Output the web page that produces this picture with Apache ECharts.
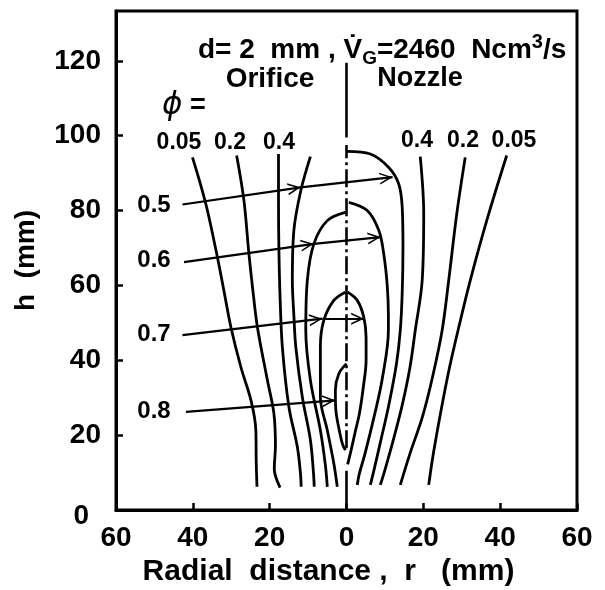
<!DOCTYPE html>
<html><head><meta charset="utf-8">
<script src="https://cdn.jsdelivr.net/npm/echarts@6/dist/echarts.min.js"></script>
<style>html,body{margin:0;padding:0;background:#fff}#c{width:605px;height:590px}</style>
</head><body><div id="c"></div>
<script>
// ---------- axes ----------
const xTicks = [-60, -40, -20, 0, 20, 40, 60];
const yTicks = [0, 20, 40, 60, 80, 100, 120];

// ---------- contour lines (r in mm, negative = orifice side; h in mm) ----------
const orifice005 = [[-40.1,94.2],[-38,87],[-36.2,80],[-33.6,67.5],[-31.8,58],[-30.1,48.9],[-27.5,38.2],[-24.8,29],[-23.6,21.3],[-23.5,13],[-23.3,6.2]];
const orifice02  = [[-28.6,94.7],[-26.7,82.7],[-25.4,68.4],[-24.3,58],[-23.2,48.9],[-20.6,34.7],[-18.9,25.8],[-18.5,17],[-18.8,11],[-17.3,6]];
const orifice04  = [[-17.7,95.1],[-17.7,82],[-17.6,70],[-17.3,57],[-16.7,43.6],[-15,27.6],[-12.8,16.9],[-12,10],[-11.8,6.2]];
const orifice05  = [[-9.4,94.4],[-11.9,85.3],[-13.7,74.7],[-14.1,61.3],[-13.7,52],[-13.2,43.6],[-11.5,30.2],[-9.4,18.7],[-8.6,10],[-8.4,6.2]];
const orifice06  = [[-0.3,79.5],[-5,77.3],[-8.5,71.1],[-10.2,61.3],[-10.6,48],[-9.4,34.7],[-6.8,21.3],[-5.5,12],[-5,6.2]];
const orifice07  = [[-0.3,58.2],[-3.3,56],[-5.9,50.7],[-6.8,43.6],[-6.8,30.2],[-5,21.3],[-3.3,12.4],[-2.4,6.2]];
const orifice08  = [[0,39.1],[-2,36.4],[-2.9,32],[-2.8,27],[-2.4,24],[-1.1,17.8],[-0.3,16]];

const nozzle05  = [[0.2,95.8],[6.2,95.1],[11,91.5],[13.6,87.1],[14.5,80.9],[14.7,70.2],[14.5,58],[14,48],[13,39],[11,28],[8.8,18],[7,10],[6.2,6.7]];
const nozzle06  = [[0.6,82.2],[5.4,80],[8.4,74.7],[9.7,68.4],[10.6,60],[10.9,52],[10.9,48],[9.3,35],[7.2,25],[4.8,15],[3.3,9.5],[2.8,6.7]];
const nozzle07  = [[0.3,58.2],[2.8,56],[4.5,51.5],[5.1,46],[5.1,40],[4.4,33],[3.4,26],[2.3,21],[1.2,16],[0.3,12.2]];
const nozzle04  = [[19.2,94.4],[20.1,79.1],[19.7,61.3],[17.9,48],[16.5,38],[14.5,28],[12,18],[9.8,10],[8.8,6.7]];
const nozzle02  = [[30.9,94.2],[28.7,79.1],[26.6,61.3],[24.9,48],[22.5,36],[19.8,25],[16.5,15],[14,6.7]];
const nozzle005 = [[41.7,94.7],[36.5,77.3],[32.2,61.3],[29.5,50],[26.8,38],[24.5,26],[22.6,15],[21.4,6.7]];

// centre line r = 0
const axisTop   = [[0,99.5],[0,119.5]];
const axisMid   = [[0,16.5],[0,97.5]];
const axisFoot  = [[0,0],[0,10.5]];

// arrows from level labels to the contours: [from, to]
const arrowLevels = ['0.5','0.6','0.7','0.8'];
const arrows = [
  [[-42.7,81.6],[-11.9,86.2]], [[-11.9,86.2],[12.0,88.9]],
  [[-42.3,66.2],[-8.5,71.1]],  [[-8.5,71.1],[8.9,72.9]],
  [[-42.7,46.7],[-6.3,51.1]],  [[-6.3,51.1],[4.6,51.1]],
  [[-41.8,26.2],[-2.9,29.3]]
];

const FONT = '"Liberation Sans", Arial, sans-serif';
const contours = [orifice005, orifice02, orifice04, orifice05, orifice06, orifice07, orifice08,
                  nozzle05, nozzle06, nozzle07, nozzle04, nozzle02, nozzle005];

const series = contours.map(d => ({
  type: 'line', data: d, showSymbol: false, smooth: 0.35, silent: true,
  lineStyle: { color: '#000', width: 2.8 }, z: 3
}));
series.push({ type: 'line', data: axisTop, showSymbol: false, silent: true, lineStyle: { color: '#000', width: 2.6 } });
series.push({ type: 'line', data: axisFoot, showSymbol: false, silent: true, lineStyle: { color: '#000', width: 2.6 } });
const arrowHead = 'path://M6,0 L6.01,0 L6,0.01 Z M0,24 L6,12 L12,24 L10.3,24 L6,15.4 L1.7,24 Z';
series.push({ type: 'line', data: axisMid, showSymbol: false, silent: true,
  lineStyle: { color: '#000', width: 2.6, type: [18, 4, 3, 4] },
  markLine: {
    silent: true, animation: false, symbol: ['none', arrowHead], symbolSize: [12, 26],
    label: { show: false },
    lineStyle: { color: '#000', width: 2.2, type: 'solid' },
    data: arrows.map(a => [{ coord: a[0] }, { coord: a[1] }])
  }
});

const txt = (text, x, y, size, align) => ({
  type: 'text', x: x, y: y, silent: true,
  style: { text: text, font: 'bold ' + size + 'px ' + FONT, fill: '#000', align: align || 'center', verticalAlign: 'middle' }
});
const graphics = [
  txt('0.05', 179, 143, 23), txt('0.2', 230, 143, 23), txt('0.4', 279, 143, 23),
  txt('0.4', 417, 141, 23), txt('0.2', 463, 141, 23), txt('0.05', 514, 141, 23),
  txt('Orifice', 270, 79, 28), txt('Nozzle', 420, 79, 27)
];
const levelY = [205, 260, 334, 411];
arrowLevels.forEach((l, i) => graphics.push(txt(l, 154, levelY[i], 24)));
graphics.push({
  type: 'text', x: 162, y: 106, silent: true,
  style: { text: '{p|\u03d5} =', font: 'bold 27px ' + FONT, fill: '#000', verticalAlign: 'middle',
    rich: { p: { fontFamily: 'DejaVu Sans', fontSize: 31, fontWeight: 'normal', fontStyle: 'italic' } } }
});
graphics.push({
  type: 'text', x: 198, y: 50, silent: true,
  style: {
    text: 'd= 2  mm , V\u0307{s|G}=2460  Ncm{u|3}/s',
    font: 'bold 28px ' + FONT, fill: '#000', verticalAlign: 'middle', lineHeight: 36,
    rich: {
      s: { fontSize: 19, fontWeight: 'bold', fontFamily: FONT, verticalAlign: 'bottom', lineHeight: 36, padding: [12, 0, 0, 0] },
      u: { fontSize: 20, fontWeight: 'bold', fontFamily: FONT, verticalAlign: 'top', lineHeight: 36, padding: [0, 0, 14, 0] }
    }
  }
});

const chart = echarts.init(document.getElementById('c'), null, { renderer: 'canvas' });
chart.setOption({
  animation: false,
  backgroundColor: '#fff',
  grid: { left: 116, right: 28, top: 11, bottom: 80, show: true, borderColor: '#000', borderWidth: 3,
          containLabel: false, outerBoundsMode: 'none' },
  xAxis: {
    type: 'value', min: xTicks[0], max: xTicks[xTicks.length - 1], interval: 20,
    name: 'Radial  distance ,  r   (mm)', nameLocation: 'middle', nameGap: 46,
    nameTextStyle: { fontFamily: FONT, fontWeight: 'bold', fontSize: 30, color: '#000', padding: [0, 36, 0, 0] },
    axisLine: { onZero: false, lineStyle: { color: '#000', width: 3 } },
    axisTick: { inside: true, length: 7, lineStyle: { color: '#000', width: 2.5 } },
    axisLabel: { formatter: v => xTicks.includes(v) ? String(Math.abs(v)) : '', margin: 14,
      fontFamily: FONT, fontWeight: 'bold', fontSize: 28, color: '#000' },
    splitLine: { show: false }
  },
  yAxis: {
    type: 'value', min: 0, max: 133.3, interval: 20,
    name: 'h  (mm)', nameLocation: 'middle', nameGap: 76, nameRotate: 90,
    nameTextStyle: { fontFamily: FONT, fontWeight: 'bold', fontSize: 28, color: '#000' },
    axisLine: { onZero: false, lineStyle: { color: '#000', width: 3 } },
    axisTick: { inside: true, length: 7, lineStyle: { color: '#000', width: 2.5 } },
    axisLabel: { showMaxLabel: false, margin: 15,
      formatter: v => yTicks.includes(v) ? (v === 0 ? '{z|0}' : String(v)) : '',
      fontFamily: FONT, fontWeight: 'bold', fontSize: 28, color: '#000',
      rich: { z: { fontFamily: FONT, fontWeight: 'bold', fontSize: 28, padding: [12, 12, 0, 0] } } },
    splitLine: { show: false }
  },
  graphic: graphics,
  series: series
});
</script></body></html>
